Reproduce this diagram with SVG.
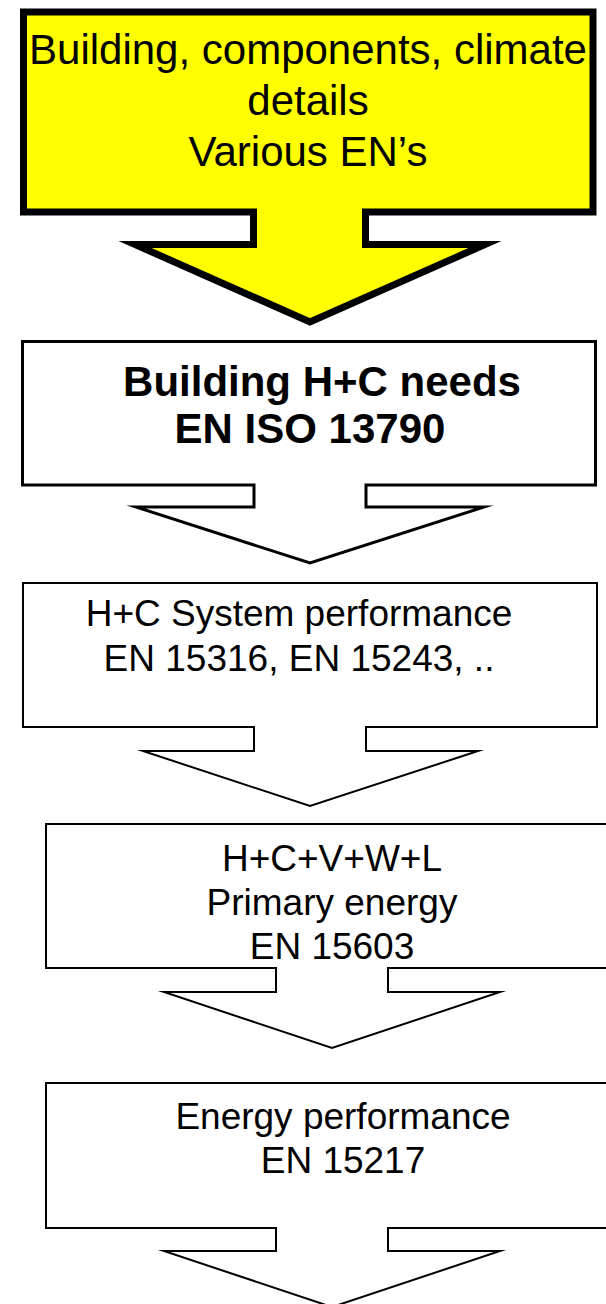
<svg xmlns="http://www.w3.org/2000/svg" width="606" height="1304" viewBox="0 0 606 1304">
<style>
.t{font-family:"Liberation Sans",Arial,sans-serif;fill:#000;text-anchor:middle}
.big{font-size:42px}
.bold{font-size:42px;font-weight:bold}
.med{font-size:37px}
.shape{stroke:#000;stroke-linejoin:miter;stroke-miterlimit:10}
</style>
<rect x="0" y="0" width="606" height="1304" fill="#fff"/>
<g id="connectors"></g>
<g id="node-inputs">
<path class="shape" fill="#ffff00" stroke-width="7" d="M23.5,12 L593,12 L593,212 L365.5,212 L365.5,244.5 L485,244.5 L310,322 L135,244.5 L253.5,244.5 L253.5,212 L23.5,212 Z"/>
<text class="t big" x="308" y="64">Building, components, climate</text>
<text class="t big" x="308" y="115">details</text>
<text class="t big" x="308" y="166">Various EN’s</text>
</g>
<g id="node-needs">
<path class="shape" fill="#fff" stroke-width="3" d="M22.5,341.5 L595.5,341.5 L595.5,485 L366,485 L366,507 L484,507 L310,563 L136,507 L254,507 L254,485 L22.5,485 Z"/>
<text class="t bold" x="322" y="396">Building H+C needs</text>
<text class="t bold" x="310" y="443">EN ISO 13790</text>
</g>
<g id="node-system">
<path class="shape" fill="#fff" stroke-width="2" d="M23,583 L597,583 L597,727 L366,727 L366,751 L478,751 L310,806 L143,751 L254,751 L254,727 L23,727 Z"/>
<text class="t med" x="299" y="626">H+C System performance</text>
<text class="t med" x="299" y="671">EN 15316, EN 15243, ..</text>
</g>
<g id="node-primary">
<path class="shape" fill="#fff" stroke-width="2" d="M46,824 L620,824 L620,968 L388,968 L388,992 L500,992 L332,1048 L164,992 L276,992 L276,968 L46,968 Z"/>
<text class="t med" x="332" y="871">H+C+V+W+L</text>
<text class="t med" x="332" y="915">Primary energy</text>
<text class="t med" x="332" y="959">EN 15603</text>
</g>
<g id="node-performance">
<path class="shape" fill="#fff" stroke-width="2" d="M46,1083 L620,1083 L620,1228 L388,1228 L388,1251 L500,1251 L332,1307 L164,1251 L276,1251 L276,1228 L46,1228 Z"/>
<text class="t med" x="343" y="1129">Energy performance</text>
<text class="t med" x="343" y="1173">EN 15217</text>
</g>
</svg>
